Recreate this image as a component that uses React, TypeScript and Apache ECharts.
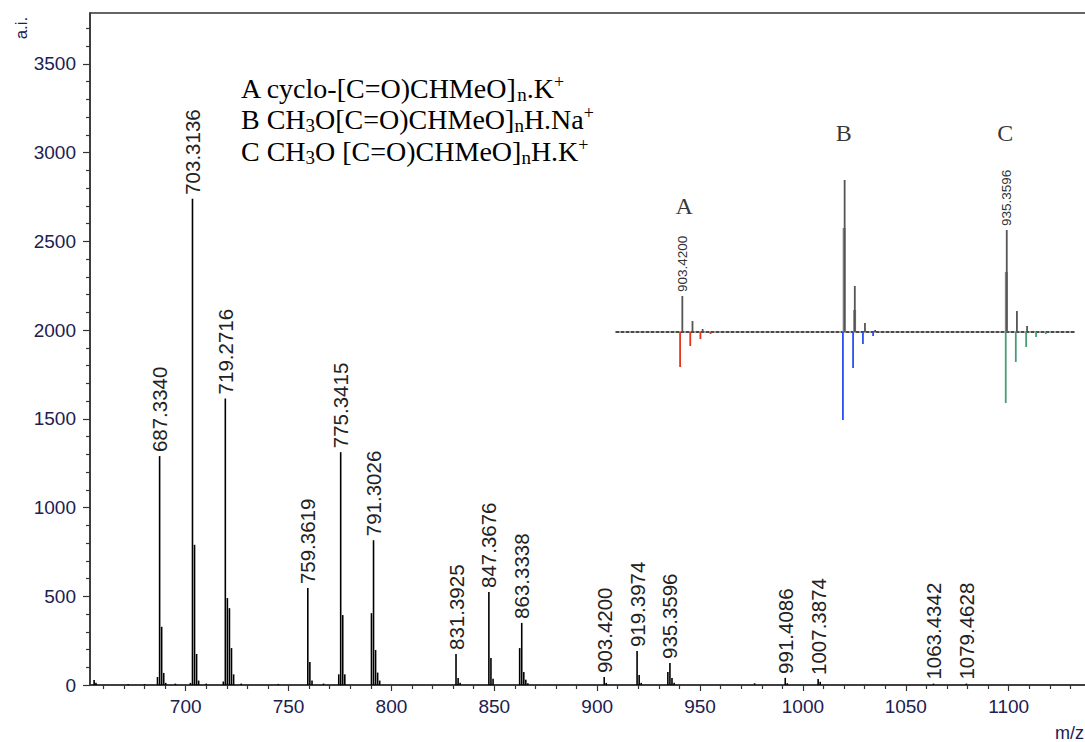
import { useEffect, useRef } from "react";
import * as echarts from "echarts";

// ---- main spectrum sticks (m/z, intensity a.i., label) ----
const peakMz = [
  655.5, 656.4, 672.0, 680.0, 686.3, 687.334, 688.33, 689.33, 690.3, 695.0,
  702.3, 703.3136, 704.31, 705.31, 706.3, 710.0, 718.3, 719.2716, 720.27, 721.27,
  722.27, 723.3, 727.0, 745.0, 759.3619, 760.36, 761.4, 767.0, 774.4, 775.3415,
  776.34, 777.34, 790.3, 791.3026, 792.3, 793.3, 794.3, 831.3925, 832.4, 833.4,
  847.3676, 848.37, 849.4, 862.33, 863.3338, 864.33, 865.3, 866.3, 903.42, 904.4,
  919.3974, 920.4, 921.4, 934.36, 935.3596, 936.36, 937.4, 976.5, 991.4086, 992.4,
  1007.3874, 1008.4, 1063.4342, 1079.4628,
];
const peakIntensity = [
  28, 12, 5, 5, 45, 1290, 328, 68, 12, 8,
  12, 2740, 790, 175, 25, 8, 20, 1615, 490, 433,
  208, 60, 8, 6, 546, 130, 25, 8, 60, 1312,
  394, 60, 405, 816, 197, 70, 25, 175, 40, 12,
  524, 152, 35, 208, 350, 73, 30, 10, 45, 12,
  191, 56, 12, 73, 124, 40, 12, 10, 40, 10,
  34, 18, 8, 8,
];
const peakLabel = [
  "", "", "", "", "", "687.3340", "", "", "", "",
  "", "703.3136", "", "", "", "", "", "719.2716", "", "",
  "", "", "", "", "759.3619", "", "", "", "", "775.3415",
  "", "", "", "791.3026", "", "", "", "831.3925", "", "",
  "847.3676", "", "", "", "863.3338", "", "", "", "903.4200", "",
  "919.3974", "", "", "", "935.3596", "", "", "", "991.4086", "",
  "1007.3874", "", "1063.4342", "1079.4628",
];

const xTickValues = [700, 750, 800, 850, 900, 950, 1000, 1050, 1100];
const yTickValues = [0, 500, 1000, 1500, 2000, 2500, 3000, 3500];

// ---- inset: observed (up) and simulated (down) isotope patterns ----
const insetObsMz = [903.42, 904.42, 905.42, 906.42, 919.40, 920.40, 921.40, 922.40, 935.36, 936.36, 937.36, 938.36];
const insetObsInt = [36, 11, 3, 1, 152, 46, 9, 2, 102, 21, 6, 1];
const insetObsLabel = ["903.4200", "", "", "", "", "", "", "", "935.3596", "", "", ""];
const insetProfileMz = [919.35, 920.38, 935.32];
const insetProfileInt = [104, 22, 60];
const simAMz = [903.2, 904.2, 905.2, 906.2];
const simAInt = [-35, -14, -7, -2];
const simBMz = [919.23, 920.23, 921.2, 922.2];
const simBInt = [-88, -36, -12, -4];
const simCMz = [935.26, 936.25, 937.27, 938.25, 939.2];
const simCInt = [-71, -30, -15, -5, -2];
const insetLetters = ["A", "B", "C"];
const insetLetterMz = [903.6, 919.3, 935.2];
const insetLetterY = [126, 199, 199];

const legendLines = [
  "A cyclo-[C=O)CHMeO]{s|n}.K{p|+}",
  "B CH{s|3}O[C=O)CHMeO]{s|n}H.Na{p|+}",
  "C CH{s|3}O [C=O)CHMeO]{s|n}H.K{p|+}",
];

const SANS = "Liberation Sans, Arial, sans-serif";
const SERIF = "Liberation Serif, Times New Roman, serif";
const TICK_COLOR = "#202050";

export default function App() {
  const ref = useRef<HTMLDivElement>(null);

  useEffect(() => {
    if (!ref.current) return;
    const chart = echarts.init(ref.current, undefined, { renderer: "svg" });

    const stickLabel = {
      show: false,
      position: "top",
      rotate: 90,
      align: "left",
      verticalAlign: "middle",
      distance: 4,
      fontSize: 20.5,
      fontFamily: SANS,
      color: "#222",
    };

    const option: any = {
      animation: false,
      backgroundColor: "#ffffff",
      grid: [
        {
          left: 90, top: 13, width: 1055, bottom: 57,
          outerBoundsMode: "none", containLabel: false,
          show: true, borderColor: "#333", borderWidth: 1.5, backgroundColor: "transparent",
        },
        { left: 616, top: 122, width: 458, height: 310, outerBoundsMode: "none", containLabel: false },
      ],
      xAxis: [
        {
          type: "value",
          gridIndex: 0,
          min: 653.5,
          max: 1166.26,
          splitNumber: 10,
          axisLine: { show: true, onZero: false, lineStyle: { color: "#333", width: 1.5 } },
          axisTick: { show: true, length: 6, customValues: xTickValues, lineStyle: { color: "#333", width: 1.2 } },
          minorTick: { show: true, splitNumber: 5, length: 4, lineStyle: { color: "#333", width: 1.2 } },
          axisLabel: {
            customValues: xTickValues, fontSize: 19, fontFamily: SANS, color: TICK_COLOR, margin: 12,
            formatter: (v: number) => String(v),
          },
          splitLine: { show: false },
        },
        {
          type: "value",
          gridIndex: 1,
          min: 896.89,
          max: 941.98,
          axisLine: { show: true, onZero: true, lineStyle: { color: "#111", width: 1.5, type: [3, 2] } },
          axisTick: { show: false },
          axisLabel: { show: false },
          splitLine: { show: false },
        },
        {
          type: "value",
          gridIndex: 1,
          min: 896.89,
          max: 941.98,
          show: false,
          splitLine: { show: false },
        },
      ],
      yAxis: [
        {
          type: "value",
          gridIndex: 0,
          min: 0,
          max: 3787,
          interval: 500,
          axisLine: { show: true, lineStyle: { color: "#333", width: 1.5 } },
          axisTick: { show: true, length: 7, customValues: yTickValues, lineStyle: { color: "#333", width: 1.2 } },
          minorTick: { show: true, splitNumber: 5, length: 4, lineStyle: { color: "#333", width: 1.2 } },
          axisLabel: {
            customValues: yTickValues, fontSize: 19, fontFamily: SANS, color: TICK_COLOR, margin: 14,
            formatter: (v: number) => String(v),
          },
          splitLine: { show: false },
        },
        { type: "value", gridIndex: 1, min: -100, max: 210, show: false, splitLine: { show: false } },
      ],
      series: [
        {
          type: "bar",
          xAxisIndex: 0,
          yAxisIndex: 0,
          barWidth: 1.6,
          itemStyle: { color: "#000" },
          label: stickLabel,
          data: peakMz.map((m, i) => ({
            value: [m, peakIntensity[i]],
            label: peakLabel[i] ? { show: true, formatter: peakLabel[i] } : undefined,
          })),
        },
        {
          type: "bar",
          xAxisIndex: 2,
          yAxisIndex: 1,
          barWidth: 3,
          itemStyle: { color: "#8a8a8a" },
          data: insetProfileMz.map((m, i) => [m, insetProfileInt[i]]),
        },
        {
          type: "bar",
          xAxisIndex: 1,
          yAxisIndex: 1,
          barWidth: 1.8,
          barGap: "-100%",
          itemStyle: { color: "#555" },
          label: { ...stickLabel, fontSize: 13.5, distance: 4, color: "#333" },
          data: insetObsMz.map((m, i) => ({
            value: [m, insetObsInt[i]],
            label: insetObsLabel[i] ? { show: true, formatter: insetObsLabel[i] } : undefined,
          })),
        },
        {
          type: "bar",
          xAxisIndex: 1,
          yAxisIndex: 1,
          barWidth: 1.8,
          barGap: "-100%",
          itemStyle: { color: "#e8341c" },
          data: simAMz.map((m, i) => [m, simAInt[i]]),
        },
        {
          type: "bar",
          xAxisIndex: 1,
          yAxisIndex: 1,
          barWidth: 1.8,
          barGap: "-100%",
          itemStyle: { color: "#2850f0" },
          data: simBMz.map((m, i) => [m, simBInt[i]]),
        },
        {
          type: "bar",
          xAxisIndex: 1,
          yAxisIndex: 1,
          barWidth: 1.8,
          barGap: "-100%",
          itemStyle: { color: "#4a9c74" },
          data: simCMz.map((m, i) => [m, simCInt[i]]),
        },
        {
          type: "scatter",
          xAxisIndex: 1,
          yAxisIndex: 1,
          symbol: "circle",
          symbolSize: 1,
          itemStyle: { color: "rgba(0,0,0,0)" },
          label: {
            show: true,
            position: "inside",
            fontSize: 24,
            fontFamily: SERIF,
            color: "#000",
            formatter: (p: any) => insetLetters[p.dataIndex],
          },
          data: insetLetterMz.map((m, i) => [m, insetLetterY[i]]),
        },
      ],
      graphic: [
        {
          type: "text",
          x: 21,
          y: 28,
          rotation: Math.PI / 2,
          style: { text: "a.i.", fontSize: 17, fontFamily: SANS, fill: TICK_COLOR, align: "center", verticalAlign: "middle" },
        },
        {
          type: "text",
          x: 1055,
          y: 733,
          style: { text: "m/z", fontSize: 18, fontFamily: SANS, fill: TICK_COLOR, align: "left", verticalAlign: "middle" },
        },
        ...legendLines.map((t, i) => ({
          type: "text",
          x: 241,
          y: 88 + i * 31.6,
          style: {
            text: t,
            fontSize: 28,
            fontFamily: SERIF,
            fill: "#000",
            lineHeight: 31,
            align: "left",
            verticalAlign: "middle",
            rich: {
              s: { fontSize: 19, fontFamily: SERIF, fill: "#000", lineHeight: 24, verticalAlign: "bottom" },
              p: { fontSize: 18, fontFamily: SERIF, fill: "#000", lineHeight: 1, verticalAlign: "top" },
            },
          },
        })),
      ],
    };

    chart.setOption(option);
    return () => chart.dispose();
  }, []);

  return (
    <div
      ref={ref}
      style={{ position: "fixed", left: 0, top: 0, width: 1085, height: 742, background: "#fff" }}
    />
  );
}
